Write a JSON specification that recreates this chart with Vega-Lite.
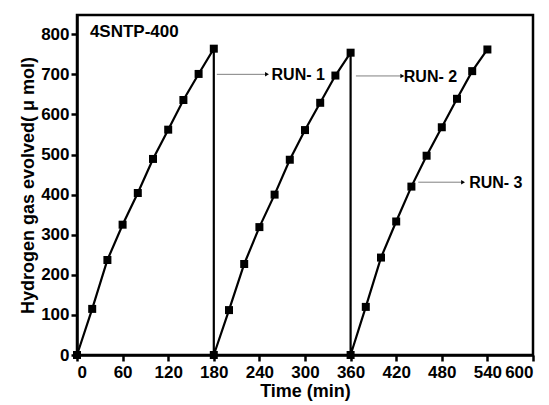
{
  "$schema": "https://vega.github.io/schema/vega-lite/v6.json",
  "autosize": {"type": "none"},
  "padding": {"left": 77, "top": 15, "right": 16, "bottom": 50},
  "width": 456,
  "height": 340,
  "background": "white",
  "config": {
    "view": {"stroke": "black", "strokeWidth": 2.5},
    "font": "Liberation Sans"
  },
  "datasets": {
    "main": [
      {"i": 1, "t": 0, "h": 0},
      {"i": 2, "t": 20, "h": 115},
      {"i": 3, "t": 40, "h": 237},
      {"i": 4, "t": 60, "h": 325},
      {"i": 5, "t": 80, "h": 404},
      {"i": 6, "t": 100, "h": 489},
      {"i": 7, "t": 120, "h": 562},
      {"i": 8, "t": 140, "h": 636},
      {"i": 9, "t": 160, "h": 701},
      {"i": 10, "t": 180, "h": 764},
      {"i": 11, "t": 180, "h": 0},
      {"i": 12, "t": 200, "h": 112},
      {"i": 13, "t": 220, "h": 227},
      {"i": 14, "t": 240, "h": 319},
      {"i": 15, "t": 260, "h": 400},
      {"i": 16, "t": 280, "h": 487},
      {"i": 17, "t": 300, "h": 561},
      {"i": 18, "t": 320, "h": 629},
      {"i": 19, "t": 340, "h": 697},
      {"i": 20, "t": 360, "h": 754},
      {"i": 21, "t": 360, "h": 0},
      {"i": 22, "t": 380, "h": 120},
      {"i": 23, "t": 400, "h": 243},
      {"i": 24, "t": 420, "h": 333},
      {"i": 25, "t": 440, "h": 420},
      {"i": 26, "t": 460, "h": 497},
      {"i": 27, "t": 480, "h": 568},
      {"i": 28, "t": 500, "h": 639},
      {"i": 29, "t": 520, "h": 708},
      {"i": 30, "t": 540, "h": 762}
    ],
    "arrows": [
      {"x1": 184, "x2": 250, "y": 700, "label": "RUN- 1", "lx": 256},
      {"x1": 367, "x2": 428, "y": 696, "label": "RUN- 2", "lx": 430},
      {"x1": 449, "x2": 508, "y": 431, "label": "RUN- 3", "lx": 516}
    ],
    "title": [{"x": 17, "y": 806, "text": "4SNTP-400"}]
  },
  "layer": [
    {
      "data": {"name": "main"},
      "mark": {"type": "line", "color": "black", "strokeWidth": 2.2},
      "encoding": {
        "x": {
          "field": "t", "type": "quantitative",
          "scale": {"domain": [0, 600], "nice": false},
          "axis": {
            "title": "Time (min)",
            "values": [0, 60, 120, 180, 240, 300, 360, 420, 480, 540, 600],
            "grid": false, "zindex": 1,
            "domainColor": "black", "domainWidth": 2.5,
            "tickColor": "black", "tickWidth": 2.5, "tickSize": 6,
            "labelFont": "Liberation Sans", "labelFontSize": 17, "labelFontWeight": "bold", "labelColor": "black", "labelPadding": 3,
            "titleFont": "Liberation Sans", "titleFontSize": 18, "titleFontWeight": "bold", "titleColor": "black", "titlePadding": 2
          }
        },
        "y": {
          "field": "h", "type": "quantitative",
          "scale": {"domain": [0, 848], "nice": false},
          "axis": {
            "title": "Hydrogen gas evolved( μ mol)",
            "values": [0, 100, 200, 300, 400, 500, 600, 700, 800],
            "grid": false, "zindex": 1,
            "domainColor": "black", "domainWidth": 2.5,
            "tickColor": "black", "tickWidth": 2.5, "tickSize": 6,
            "labelFont": "Liberation Sans", "labelFontSize": 17, "labelFontWeight": "bold", "labelColor": "black", "labelPadding": 2,
            "titleFont": "Liberation Sans", "titleFontSize": 18, "titleFontWeight": "bold", "titleColor": "black", "titlePadding": 3
          }
        },
        "order": {"field": "i", "type": "quantitative"}
      }
    },
    {
      "data": {"name": "main"},
      "mark": {"type": "point", "shape": "square", "filled": true, "color": "black", "size": 64, "opacity": 1},
      "encoding": {
        "x": {"field": "t", "type": "quantitative"},
        "y": {"field": "h", "type": "quantitative"}
      }
    },
    {
      "data": {"name": "arrows"},
      "mark": {"type": "rule", "color": "#808080", "strokeWidth": 1},
      "encoding": {
        "x": {"field": "x1", "type": "quantitative"},
        "x2": {"field": "x2"},
        "y": {"field": "y", "type": "quantitative"}
      }
    },
    {
      "data": {"name": "arrows"},
      "mark": {"type": "point", "shape": "triangle-right", "filled": true, "color": "black", "size": 20, "opacity": 1},
      "encoding": {
        "x": {"field": "x2", "type": "quantitative"},
        "y": {"field": "y", "type": "quantitative"}
      }
    },
    {
      "data": {"name": "arrows"},
      "mark": {"type": "text", "align": "left", "baseline": "middle", "font": "Liberation Sans", "fontWeight": "bold", "fontSize": 16, "color": "black", "dy": 1},
      "encoding": {
        "x": {"field": "lx", "type": "quantitative"},
        "y": {"field": "y", "type": "quantitative"},
        "text": {"field": "label"}
      }
    },
    {
      "data": {"name": "title"},
      "mark": {"type": "text", "align": "left", "baseline": "middle", "font": "Liberation Sans", "fontWeight": "bold", "fontSize": 17, "color": "black"},
      "encoding": {
        "x": {"field": "x", "type": "quantitative"},
        "y": {"field": "y", "type": "quantitative"},
        "text": {"field": "text"}
      }
    }
  ]
}
